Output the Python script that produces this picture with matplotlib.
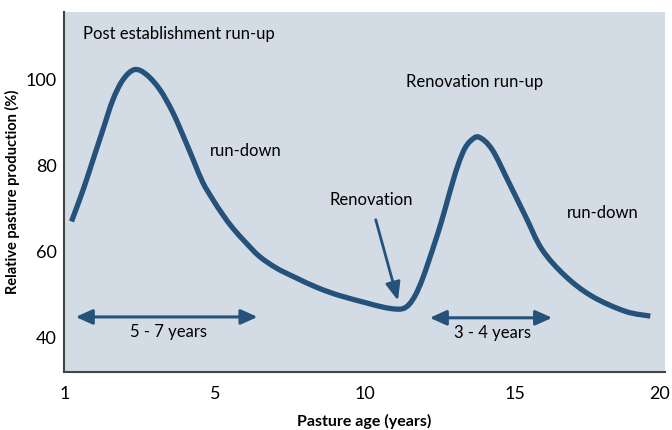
import matplotlib
matplotlib.use("Agg")
import matplotlib.pyplot as plt
from matplotlib.path import Path
from matplotlib.patches import PathPatch
import matplotlib.transforms as mtransforms
import numpy as np

# Data (x axis: tick "1" sits at position 0)
age = [0.22, 0.61, 0.94, 1.27, 1.60, 1.94, 2.32, 2.71, 3.16, 3.60, 4.04, 4.32,
       4.60, 4.93, 5.26, 5.59, 6.04, 6.48, 7.04, 7.70, 8.42, 9.14, 10.03,
       10.47, 10.91, 11.25, 11.47, 11.69, 11.91, 12.14, 12.33, 12.53, 12.73,
       12.93, 13.13, 13.33, 13.53, 13.80, 14.24, 14.80, 15.35, 15.90, 16.68,
       17.57, 18.68, 19.51]
production = [67.0, 74.4, 81.4, 88.4, 95.3, 100.0, 102.3, 101.2, 97.7, 92.3,
              85.3, 80.6, 76.0, 72.1, 68.6, 65.5, 62.0, 58.9, 56.2, 53.9, 51.6,
              49.8, 48.1, 47.3, 46.7, 46.7, 47.7, 50.0, 53.5, 58.1, 62.1, 66.5,
              71.4, 76.3, 80.7, 84.0, 85.8, 86.6, 83.7, 76.0, 68.2, 60.5, 54.3,
              49.6, 46.1, 45.0]

x_tick_pos = [0, 5, 10, 15, 20]
x_tick_labels = ["1", "5", "10", "15", "20"]
y_ticks = [40, 60, 80, 100]

span1 = (0.36, 6.42, 44.8, "5 - 7 years")
span2 = (12.16, 16.24, 44.6, "3 - 4 years")

plt.rcParams['font.family'] = ['Lato', 'DejaVu Sans']

fig = plt.figure(figsize=(6.72, 4.30), dpi=100)
ax = fig.add_axes([64/672, 1-372/430, (665-64)/672, (372-12)/430])
ax.set_facecolor('#d3dce4')
line_c = '#24527a'


def smooth_path(xs, ys):
    """Catmull-Rom through the read points, expressed as cubic Bezier segments."""
    p = np.column_stack([xs, ys]).astype(float)
    verts = [p[0]]
    codes = [Path.MOVETO]
    n = len(p)
    for i in range(n - 1):
        p0 = p[i - 1] if i > 0 else p[i]
        p1, p2 = p[i], p[i + 1]
        p3 = p[i + 2] if i + 2 < n else p[i + 1]
        c1 = p1 + (p2 - p0) / 6.0
        c2 = p2 - (p3 - p1) / 6.0
        verts += [c1, c2, p2]
        codes += [Path.CURVE4] * 3
    return Path(verts, codes)


ax.add_patch(PathPatch(smooth_path(age, production), fill=False,
                       edgecolor=line_c, lw=3.8, capstyle='butt',
                       joinstyle='round'))

ax.set_xlim(-0.03, 19.95)
ax.set_ylim(32, 115.7)
ax.set_xticks(x_tick_pos)
ax.set_xticklabels(x_tick_labels)
ax.set_yticks(y_ticks)
ax.tick_params(axis='x', length=0, labelsize=13, pad=10)
ax.tick_params(axis='y', length=0, labelsize=13, pad=5)
# keep the last tick label fully inside the canvas
last = ax.get_xticklabels()[-1]
last.set_transform(last.get_transform() +
                   mtransforms.ScaledTranslation(-4/72, 0, fig.dpi_scale_trans))
for s in ['top', 'right']:
    ax.spines[s].set_visible(False)
for s in ['left', 'bottom']:
    ax.spines[s].set_color('#444444')
    ax.spines[s].set_linewidth(1.5)

ax.set_xlabel("Pasture age (years)", fontsize=11.5, fontweight='bold', labelpad=9)
ax.set_ylabel("Relative pasture production (%)", fontsize=10.5, fontweight='bold', labelpad=4)

for (x0, x1, yv, lab) in (span1, span2):
    ax.annotate("", xy=(x0, yv), xytext=(x1, yv),
                arrowprops=dict(arrowstyle='<|-|>,head_length=1.0,head_width=0.45',
                                color=line_c, lw=2.2, shrinkA=0, shrinkB=0))
    ax.text((x0 + x1) / 2 + 0.05, yv - 3.5, lab, ha='center', va='center', fontsize=12)

ax.annotate("", xy=(11.1, 48.6), xytext=(10.36, 67.4),
            arrowprops=dict(arrowstyle='-|>,head_length=1.1,head_width=0.45',
                            color=line_c, lw=2.0, shrinkA=0, shrinkB=0))

ax.text(0.59, 110.5, "Post establishment run-up", ha='left', va='center', fontsize=12)
ax.text(4.84, 83.3, "run-down", ha='left', va='center', fontsize=12)
ax.text(10.2, 71.9, "Renovation", ha='center', va='center', fontsize=12)
ax.text(11.36, 99.4, "Renovation run-up", ha='left', va='center', fontsize=12)
ax.text(16.73, 69.0, "run-down", ha='left', va='center', fontsize=12)

fig.savefig("out.png", dpi=100)
